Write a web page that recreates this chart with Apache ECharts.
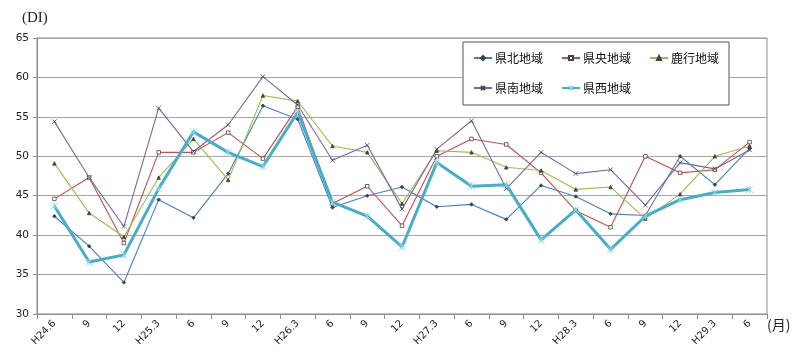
<!DOCTYPE html>
<html>
<head>
<meta charset="utf-8">
<script src="https://cdn.jsdelivr.net/npm/echarts@6/dist/echarts.min.js"></script>
<style>
html, body { margin: 0; padding: 0; background: #fff; }
#main { width: 800px; height: 352px; }
</style>
</head>
<body>
<div id="main"></div>
<script>
var chartDom = document.getElementById("main");
var myChart = echarts.init(chartDom, null, {renderer: 'canvas'});

// 横軸（調査時点）
var months = ['H24.6', '9', '12', 'H25.3', '6', '9', '12', 'H26.3', '6', '9', '12',
    'H27.3', '6', '9', '12', 'H28.3', '6', '9', '12', 'H29.3', '6'];

// 各地域のDI
var kenpoku = [42.4, 38.6, 34.0, 44.5, 42.2, 47.8, 56.4, 54.7, 43.5, 45.0, 46.1,
    43.6, 43.9, 42.0, 46.3, 44.9, 42.7, 42.5, 50.0, 46.4, 51.0];
var kenou = [44.6, 47.3, 39.0, 50.5, 50.5, 53.0, 49.7, 56.3, 44.0, 46.2, 41.2,
    50.0, 52.2, 51.5, 47.9, 43.1, 41.0, 50.0, 47.9, 48.3, 51.8];
var rokko = [49.1, 42.8, 39.8, 47.3, 52.2, 47.0, 57.7, 57.0, 51.3, 50.5, 44.0,
    50.7, 50.5, 48.6, 48.2, 45.8, 46.1, 42.1, 45.2, 50.0, 51.3];
var kennan = [54.4, 47.3, 41.1, 56.1, 50.6, 54.0, 60.1, 56.5, 49.5, 51.4, 43.3,
    50.9, 54.5, 45.9, 50.5, 47.8, 48.3, 43.8, 49.2, 48.4, 50.8];
var kensei = [43.7, 36.6, 37.5, 45.9, 53.1, 50.5, 48.7, 55.6, 44.2, 42.4, 38.5,
    49.2, 46.2, 46.4, 39.4, 43.2, 38.2, 42.4, 44.5, 45.4, 45.8];

var names = ['県北地域', '県央地域', '鹿行地域', '県南地域', '県西地域'];

// マーカー
var crossPath = 'path://M0,0L10,10M10,0L0,10';
var starPath = 'path://M0,0L10,10M10,0L0,10M5,0L5,10';

function thinLine(name, data, color, symbol, size, markFill) {
    return {
        name: name,
        type: 'line',
        data: data,
        symbol: symbol,
        symbolSize: size,
        showSymbol: true,
        lineStyle: {color: color, width: 1.1},
        itemStyle: {color: markFill, borderColor: '#444', borderWidth: 0.8},
        z: 3
    };
}

option = {
    animation: false,
    backgroundColor: '#ffffff',
    textStyle: {fontFamily: 'Noto Sans CJK JP'},
    graphic: [
        {   // 縦軸の単位
            type: 'text',
            left: 22,
            top: 11,
            style: {text: '(DI)', fontSize: 15, fill: '#222', fontFamily: 'Liberation Serif'}
        },
        {   // 横軸の単位
            type: 'text',
            left: 767,
            top: 318,
            style: {text: '(月)', fontSize: 14, fill: '#222', fontFamily: 'Noto Sans CJK JP'}
        }
    ],
    grid: {
        left: 37, right: 33, top: 38, bottom: 38,
        show: true,
        borderColor: '#8c8c8c',
        borderWidth: 1
    },
    legend: {
        left: 463,
        top: 42,
        width: 252,
        padding: [10, 10, 11, 10],
        itemGap: 18,
        itemWidth: 18,
        itemHeight: 5,
        backgroundColor: '#ffffff',
        borderColor: '#555',
        borderWidth: 1,
        textStyle: {fontSize: 12, color: '#111', fontFamily: 'Noto Sans CJK JP', padding: [0, 0, 0, -2]},
        data: names
    },
    xAxis: {
        type: 'category',
        data: months,
        boundaryGap: true,
        axisLine: {lineStyle: {color: '#8c8c8c'}},
        axisTick: {show: true, length: 5, inside: false, alignWithLabel: false, lineStyle: {color: '#8c8c8c'}},
        axisLabel: {rotate: 45, fontSize: 10, color: '#222', margin: 8, interval: 0, fontFamily: 'DejaVu Sans'}
    },
    yAxis: {
        type: 'value',
        min: 30,
        max: 65,
        interval: 5,
        axisLine: {show: true, lineStyle: {color: '#8c8c8c'}},
        axisTick: {show: true, length: 4, lineStyle: {color: '#8c8c8c'}},
        axisLabel: {fontSize: 10.5, color: '#222', margin: 8, fontFamily: 'DejaVu Sans'},
        splitLine: {lineStyle: {color: '#a6a6a6', width: 1}}
    },
    series: [
        thinLine(names[0], kenpoku, '#4a7ebb', 'diamond', 3.5, '#2d3f5a'),
        thinLine(names[1], kenou, '#c0504d', 'rect', 3.5, '#ffffff'),
        thinLine(names[2], rokko, '#9bbb59', 'triangle', 3.5, '#3a4a22'),
        thinLine(names[3], kennan, '#8064a2', crossPath, 4.5, 'transparent'),
        {
            name: names[4],
            type: 'line',
            data: kensei,
            symbol: starPath,
            symbolSize: 7,
            lineStyle: {color: '#4bacc6', width: 3},
            itemStyle: {color: 'transparent', borderColor: '#8fd6ea', borderWidth: 1},
            z: 4
        }
    ]
};

if (option && typeof option === "object") {
    myChart.setOption(option);
}
</script>
</body>
</html>
